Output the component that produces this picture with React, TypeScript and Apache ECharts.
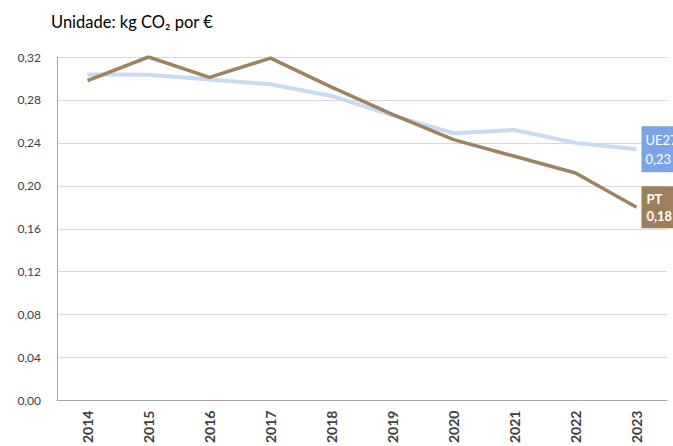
import React, { useEffect, useRef } from "react";
import * as echarts from "echarts";

const years = ["2014", "2015", "2016", "2017", "2018", "2019", "2020", "2021", "2022", "2023"];
const ptValues = [0.298, 0.32, 0.301, 0.319, 0.292, 0.2665, 0.243, 0.2275, 0.212, 0.18];
const ue27Values = [0.3037, 0.3035, 0.299, 0.2946, 0.2837, 0.2656, 0.249, 0.252, 0.24, 0.234];
const yTicks = { min: 0, max: 0.32, interval: 0.04 };
const titleText = "Unidade: kg CO\u2082 por \u20ac";

const fmt = (v: number) => v.toFixed(2).replace(".", ",");
const FONT = "Lato, 'Open Sans', sans-serif";

export default function App() {
  const ref = useRef<HTMLDivElement>(null);
  useEffect(() => {
    if (!ref.current) return;
    const chart = echarts.init(ref.current, null, { renderer: "svg" });
    chart.setOption({
      animation: false,
      textStyle: { fontFamily: FONT },
      graphic: [
        {
          type: "text",
          x: 51,
          y: 13,
          style: { text: titleText, fontSize: 16.5, fill: "#000", fontFamily: FONT, textVerticalAlign: "top" },
        },
      ],
      grid: { left: 57, right: 6, top: 57, bottom: 36, containLabel: false },
      xAxis: {
        type: "category",
        data: years,
        boundaryGap: true,
        axisLine: { show: true, lineStyle: { color: "#a6a6a6", width: 1 } },
        axisTick: { show: false },
        axisLabel: { rotate: 90, margin: 10, fontSize: 14, fontWeight: "bold", color: "#404040", interval: 0 },
      },
      yAxis: {
        type: "value",
        min: yTicks.min,
        max: yTicks.max,
        interval: yTicks.interval,
        axisLine: { show: true, lineStyle: { color: "#a6a6a6", width: 1 } },
        axisTick: { show: false },
        splitLine: { lineStyle: { color: "#d9d9d9", width: 1 } },
        axisLabel: { formatter: (v: number) => fmt(v), fontSize: 12, color: "#404040", margin: 16 },
      },
      series: [
        {
          name: "UE27",
          type: "line",
          data: ue27Values,
          symbol: "none",
          lineStyle: { color: "#c9daf5", width: 4 },
          endLabel: {
            show: true,
            distance: 5,
            formatter: (p: any) => "UE27\n" + fmt(p.value),
            backgroundColor: "#7ba4e6",
            color: "#fff",
            fontSize: 13,
            lineHeight: 19,
            padding: [4, 4],
          },
          z: 2,
        },
        {
          name: "PT",
          type: "line",
          data: ptValues,
          symbol: "none",
          lineStyle: { color: "#a0825f", width: 3.5 },
          endLabel: {
            show: true,
            distance: 5,
            formatter: (p: any) => "PT\n" + fmt(p.value),
            backgroundColor: "#9e7f5c",
            color: "#fff",
            fontWeight: "bold",
            fontSize: 13,
            lineHeight: 17,
            padding: [5, 5, 3, 5],
          },
          z: 3,
        },
      ],
    });
    return () => chart.dispose();
  }, []);
  return <div ref={ref} style={{ width: 673, height: 446, position: "absolute", left: 0, top: 0 }} />;
}
